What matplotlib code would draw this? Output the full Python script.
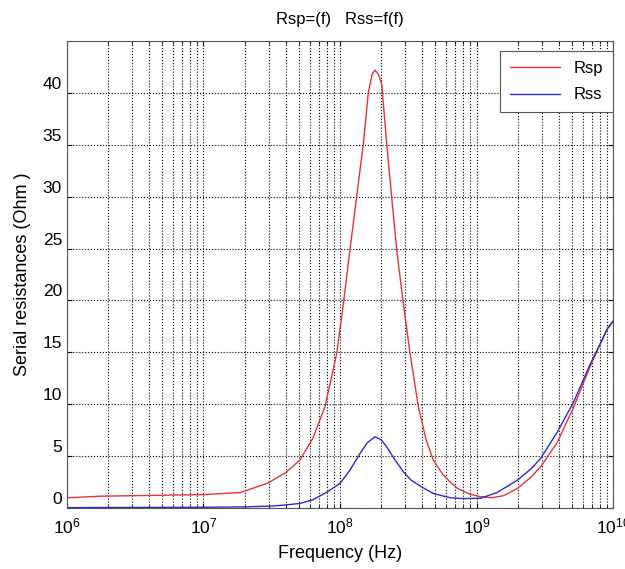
import matplotlib
matplotlib.use("Agg")
import matplotlib.pyplot as plt
import matplotlib.transforms as mtransforms
import numpy as np

matplotlib.rcParams["font.family"] = ["Liberation Sans", "DejaVu Sans"]

rsp_logf = [6.0, 6.25, 6.5, 7.0, 7.27, 7.47, 7.6, 7.707, 7.8, 7.89, 7.976, 8.025,
            8.073, 8.122, 8.171, 8.207, 8.235, 8.256, 8.28, 8.305, 8.342, 8.378,
            8.415, 8.464, 8.513, 8.574, 8.63, 8.683, 8.75, 8.8, 8.86, 8.95, 9.03,
            9.11, 9.2, 9.3, 9.4, 9.47, 9.59, 9.71, 9.83, 9.96, 10.0]
rsp_vals = [1.0, 1.15, 1.2, 1.3, 1.5, 2.4, 3.4, 4.63, 6.7, 9.76, 14.9, 19.7,
            24.9, 30.0, 35.1, 40.0, 41.8, 42.2, 41.8, 40.9, 35.1, 30.0,
            24.9, 19.7, 14.9, 9.76, 6.6, 4.63, 3.3, 2.6, 1.9, 1.35, 1.1,
            1.0, 1.2, 1.9, 3.0, 4.0, 6.3, 9.7, 13.6, 17.4, 18.0]

rss_logf = [6.0, 7.0, 7.3, 7.5, 7.6, 7.707, 7.8, 7.9, 8.0, 8.07, 8.147, 8.2,
            8.256, 8.3, 8.342, 8.4, 8.464, 8.52, 8.59, 8.683, 8.806, 8.9, 9.03,
            9.15, 9.3, 9.4, 9.47, 9.59, 9.71, 9.83, 9.96, 10.0]
rss_vals = [0.05, 0.08, 0.12, 0.2, 0.3, 0.45, 0.8, 1.5, 2.38, 3.6, 5.27, 6.3,
            6.87, 6.6, 5.9, 4.7, 3.5, 2.7, 2.1, 1.41, 1.0, 0.92, 0.95,
            1.5, 2.7, 3.8, 4.8, 7.3, 10.2, 13.8, 17.3, 18.0]

fig = plt.figure(figsize=(6.25, 5.69), dpi=100)
ax = fig.add_axes([0.107, 0.107, 0.874, 0.821])

ax.semilogx(10 ** np.array(rsp_logf), rsp_vals, color="#e8323a", lw=1.0, label="Rsp")
ax.semilogx(10 ** np.array(rss_logf), rss_vals, color="#2b2bd0", lw=1.0, label="Rss")

ax.set_xlim(1e6, 1e10)
ax.set_ylim(0, 45)
ax.set_yticks([0, 5, 10, 15, 20, 25, 30, 35, 40])

ax.grid(True, which="major", color="black", linestyle=":", linewidth=0.8)
ax.grid(True, which="minor", axis="x", color="black", linestyle=":", linewidth=0.8)
ax.tick_params(which="both", direction="in", top=True, right=True, labelsize=12.5)
ax.tick_params(axis="x", which="major", pad=6)
for sp in ax.spines.values():
    sp.set_color("#555555")

# y tick labels sit a bit above their gridlines in the original
offset = mtransforms.ScaledTranslation(0, 0.10, fig.dpi_scale_trans)
for lbl in ax.get_yticklabels():
    lbl.set_transform(lbl.get_transform() + offset)

ax.set_xlabel("Frequency (Hz)", fontsize=13, labelpad=6)
ax.set_ylabel("Serial resistances (Ohm )", fontsize=13, labelpad=8)
ax.set_title("Rsp=(f)   Rss=f(f)", fontsize=12, pad=12)

leg = ax.legend(loc="upper right", bbox_to_anchor=(1.0, 0.979), borderaxespad=0,
                fontsize=12, fancybox=False, framealpha=1, edgecolor="#555555",
                handlelength=3.0, labelspacing=0.7, borderpad=0.6)
leg.get_frame().set_linewidth(0.8)

fig.savefig("out.png", dpi=100)
